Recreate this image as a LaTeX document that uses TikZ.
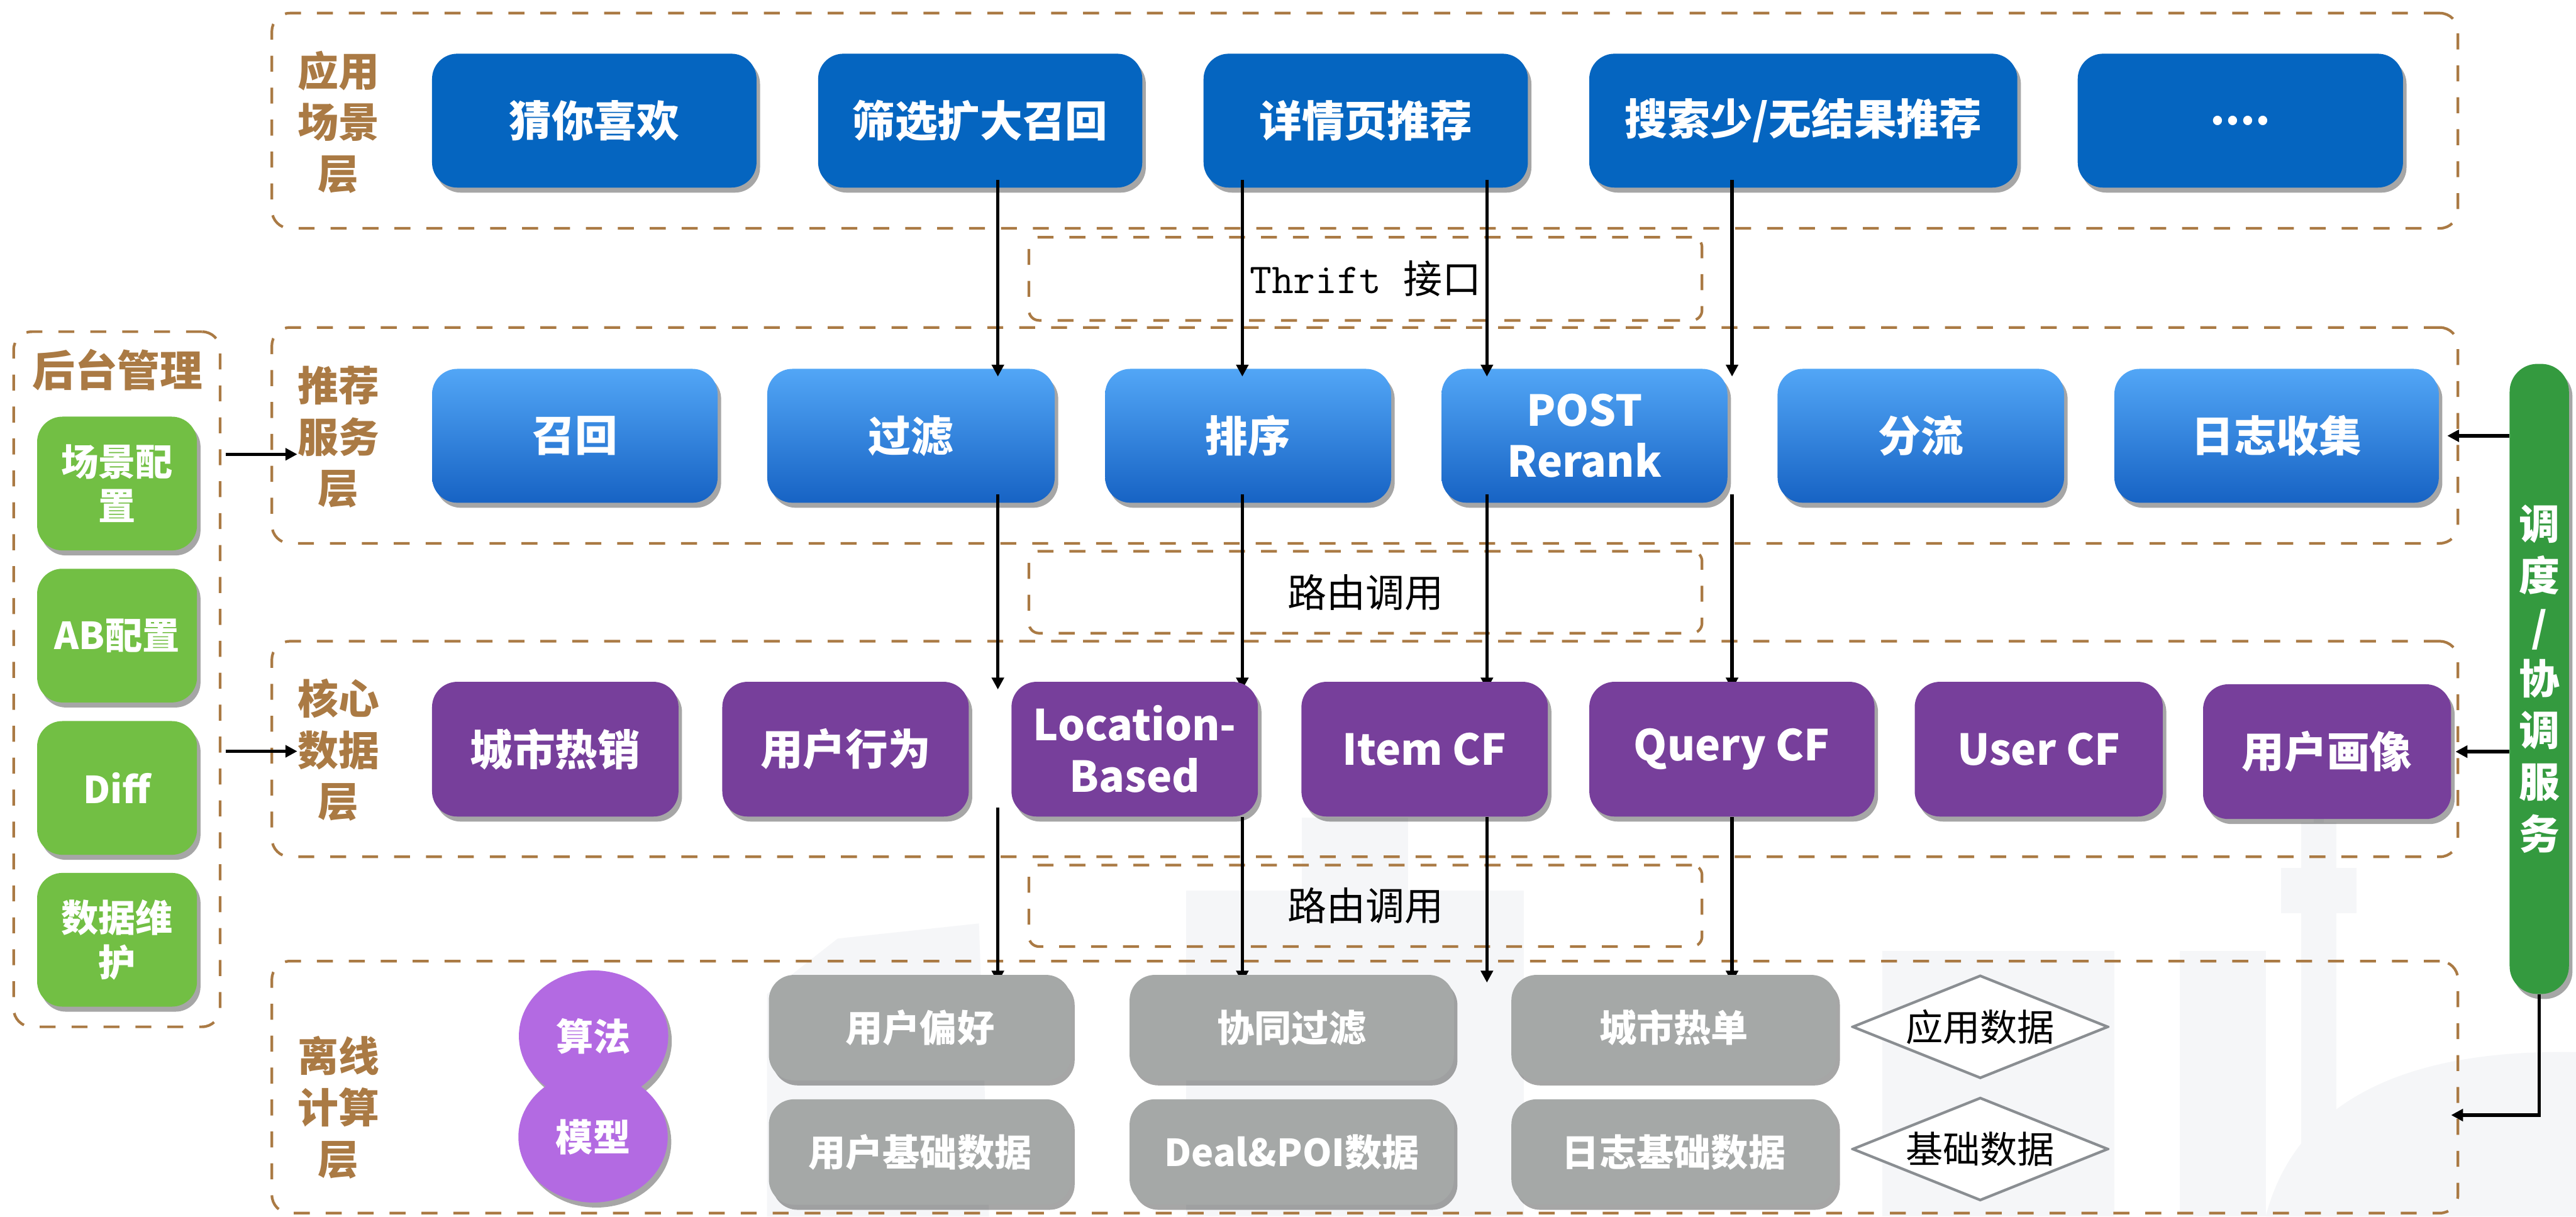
\documentclass[tikz,border=0pt]{standalone}
\usepackage{fontspec}
\setmainfont{Noto Sans CJK SC}
\usetikzlibrary{arrows.meta,shapes.geometric,shadows}

\definecolor{appblue}{HTML}{0565C0}
\definecolor{rectop}{HTML}{52A6F6}
\definecolor{recmid}{HTML}{3B8EE3}
\definecolor{recbot}{HTML}{1763C4}
\definecolor{corepurple}{HTML}{773F9B}
\definecolor{offgray}{HTML}{A5A8A7}
\definecolor{algpurple}{HTML}{B36AE2}
\definecolor{admingreen}{HTML}{72BF44}
\definecolor{busgreen}{HTML}{349A3F}
\definecolor{framebrown}{HTML}{AA7A44}
\definecolor{diamondgray}{HTML}{8A8E92}
\definecolor{skyline}{HTML}{F5F6F8}

\pgfdeclarelayer{bg}
\pgfdeclarelayer{links}
\pgfdeclarelayer{front}
\pgfsetlayers{bg,main,links,front}

\tikzset{
  layerframe/.style={draw=framebrown, line width=1.5pt, dash pattern=on 9pt off 9pt,
    rounded corners=0.36cm, inner sep=0pt},
  callframe/.style={layerframe, rounded corners=0.2cm, font=\fontsize{22}{26}\selectfont},
  box/.style={rounded corners=0.5cm, text=white, align=center, inner sep=0pt,
    font=\bfseries\fontsize{24}{29}\selectfont,
    drop shadow={shadow xshift=0.07cm, shadow yshift=-0.1cm, fill=black, opacity=0.35}},
  appbox/.style={box, fill=appblue, minimum height=2.653cm},
  recbox/.style={box, top color=rectop, middle color=recmid, bottom color=recbot,
    minimum height=2.653cm},
  corebox/.style={box, fill=corepurple, minimum width=4.884cm, minimum height=2.67cm},
  offbox/.style={box, fill=offgray, minimum height=2.09cm,
    font=\bfseries\fontsize{21}{25}\selectfont},
  adminbox/.style={box, fill=admingreen, minimum width=3.168cm, minimum height=2.65cm,
    font=\bfseries\fontsize{21}{25}\selectfont},
  algo/.style={box, ellipse, fill=algpurple, minimum width=2.96cm, minimum height=2.6cm,
    font=\bfseries\fontsize{21}{25}\selectfont},
  % diamond drawn inside a plain box so its size is exact
  dataflag/.style={inner sep=0pt, minimum width=5.12cm, minimum height=2.09cm,
    font=\fontsize{21}{25}\selectfont,
    path picture={\filldraw[fill=white, draw=diamondgray, line width=1.5pt]
      ([yshift=-0.035cm]path picture bounding box.north)
      -- ([xshift=-0.035cm]path picture bounding box.east)
      -- ([yshift=0.035cm]path picture bounding box.south)
      -- ([xshift=0.035cm]path picture bounding box.west) -- cycle;}},
  layerlabel/.style={text=framebrown, align=center, inner sep=0pt,
    font=\bfseries\fontsize{23}{29}\selectfont},
  link/.style={line width=1.9pt, -{Triangle[length=6.7pt,width=6.7pt]}},
}

\begin{document}
\begin{tikzpicture}
\useasboundingbox (0,0) rectangle (51.05,-24.11);

% faint city skyline behind the lower layers
\begin{pgfonlayer}{bg}
\fill[white] (0,0) rectangle (51.05,-24.11);
\fill[skyline] (23.5,-17.65) rectangle (30.2,-24.11);
\fill[skyline] (25.8,-16.2) rectangle (27.9,-17.65);
\fill[skyline] (37.3,-18.85) rectangle (41.9,-24.11);
\fill[skyline] (43.2,-18.85) rectangle (44.9,-24.11);
\fill[skyline] (45.85,-13.9) rectangle (46.05,-16.3);
\fill[skyline] (45.6,-16.3) rectangle (46.3,-24.11);
\fill[skyline] (45.2,-17.2) rectangle (46.7,-18.1);
\fill[skyline] (44.9,-24.11) .. controls (45.6,-21.4) and (48.4,-20.8) .. (51.05,-20.85)
  -- (51.05,-24.11) -- cycle;
\fill[skyline] (15.2,-19.7) -- (16.6,-18.6) -- (19.4,-18.3) -- (19.6,-24.11)
  -- (15.2,-24.11) -- cycle;
\end{pgfonlayer}

% layer frames
\node[layerframe, minimum width=43.322cm, minimum height=4.265cm] (fApp) at (27.049,-2.3925) {};
\node[layerframe, minimum width=43.322cm, minimum height=4.278cm] (fRec) at (27.049,-8.628) {};
\node[layerframe, minimum width=43.322cm, minimum height=4.272cm] (fCore) at (27.049,-14.843) {};
\node[layerframe, minimum width=43.322cm, minimum height=4.994cm] (fOff) at (27.049,-21.543) {};
\node[layerframe, minimum width=4.093cm, minimum height=13.775cm] (admin) at (2.3165,-13.4605) {};

% call frames between the layers
\node[callframe, minimum width=13.34cm, minimum height=1.648cm] (thrift) at (27.06,-5.525)
  {{\ttfamily\fontsize{24}{26}\selectfont Thrift }接口};
\node[callframe, minimum width=13.34cm, minimum height=1.624cm] (route1) at (27.06,-11.735) {路由调用};
\node[callframe, minimum width=13.34cm, minimum height=1.615cm] (route2) at (27.06,-17.95) {路由调用};

% layer labels
\node[layerlabel] (lblApp) at (6.707,-2.419) {应用\\场景\\层};
\node[layerlabel] (lblRec) at (6.707,-8.66) {推荐\\服务\\层};
\node[layerlabel] (lblCore) at (6.707,-14.862) {核心\\数据\\层};
\node[layerlabel] (lblOff) at (6.707,-21.943) {离线\\计算\\层};

% application layer
\node[appbox, minimum width=6.43cm] (guess) at (11.777,-2.391) {猜你喜欢};
\node[appbox, minimum width=6.424cm] (expand) at (19.425,-2.391) {筛选扩大召回};
\node[appbox, minimum width=6.427cm] (detail) at (27.065,-2.391) {详情页推荐};
\node[appbox, minimum width=8.484cm] (search) at (35.737,-2.391) {搜索少/无结果推荐};
\node[appbox, minimum width=6.446cm] (more) at (44.398,-2.391) {....};

% recommendation service layer
\node[recbox, minimum width=5.658cm] (recall) at (11.392,-8.636) {召回};
\node[recbox, minimum width=5.697cm] (filt) at (18.053,-8.636) {过滤};
\node[recbox, minimum width=5.668cm] (rank) at (24.735,-8.636) {排序};
\node[recbox, minimum width=5.665cm] (rerank) at (31.401,-8.636) {POST\\Rerank};
\node[recbox, minimum width=5.678cm] (split) at (38.066,-8.636) {分流};
\node[recbox, minimum width=6.43cm] (logc) at (45.116,-8.636) {日志收集};

% core data and offline layers sit in front of the links
\begin{pgfonlayer}{front}
\node[corebox] (hot) at (11.004,-14.846) {城市热销};
\node[corebox] (behave) at (16.756,-14.846) {用户行为};
\node[corebox] (loc) at (22.487,-14.846) {Location-\\Based};
\node[corebox] (icf) at (28.233,-14.846) {Item CF};
\node[corebox, minimum width=5.652cm] (qcf) at (34.322,-14.846) {Query CF};
\node[corebox, minimum width=4.916cm] (ucf) at (40.403,-14.846) {User CF};
\node[corebox, minimum width=4.916cm] (portrait) at (46.117,-14.895) {用户画像};

\node[offbox, minimum width=5.99cm] (pref) at (18.232,-20.364) {用户偏好};
\node[offbox, minimum width=5.99cm] (ubase) at (18.232,-22.829) {用户基础数据};
\node[offbox, minimum width=6.427cm] (cofilt) at (25.599,-20.364) {协同过滤};
\node[offbox, minimum width=6.427cm] (dealpoi) at (25.599,-22.829) {Deal\&POI数据};
\node[offbox, minimum width=6.44cm] (cityhot) at (33.172,-20.364) {城市热单};
\node[offbox, minimum width=6.44cm] (logbase) at (33.172,-22.829) {日志基础数据};

\node[algo] (alg) at (11.763,-20.53) {算法};
\node[algo] (model) at (11.753,-22.529) {模型};

\node[dataflag] (appdata) at (39.244,-20.348) {应用数据};
\node[dataflag] (basedata) at (39.244,-22.77) {基础数据};
\end{pgfonlayer}

% admin column
\node[layerlabel, font=\bfseries\fontsize{24}{29}\selectfont] (adminTitle) at (2.328,-7.325) {后台管理};
\node[adminbox] (scene) at (2.32,-9.582) {场景配\\置};
\node[adminbox] (abcfg) at (2.32,-12.595) {AB配置};
\node[adminbox] (diff) at (2.32,-15.614) {Diff};
\node[adminbox] (maint) at (2.32,-18.623) {数据维\\护};

% scheduling bar
\node[box, fill=busgreen, rounded corners=0.55cm, minimum width=1.175cm, minimum height=12.486cm,
  font=\bfseries\fontsize{23}{29.1}\selectfont] (bus) at (50.322,-13.454) {调\\度\\/\\协\\调\\服\\务};

% link columns
\coordinate (c1) at (19.775,0);
\coordinate (c2) at (24.62,0);
\coordinate (c3) at (29.467,0);
\coordinate (c4) at (34.325,0);
\coordinate (adminIn1) at (0,-9.002);
\coordinate (adminIn2) at (0,-14.888);
\coordinate (offIn) at (48.575,-22.097);

\begin{pgfonlayer}{links}
% app -> recommendation (Thrift)
\draw[link] ([yshift=0.16cm]expand.south -| c1) -- ([yshift=-0.16cm]filt.north -| c1);
\draw[link] ([yshift=0.16cm]detail.south -| c2) -- ([yshift=-0.16cm]rank.north -| c2);
\draw[link] ([yshift=0.16cm]detail.south -| c3) -- ([yshift=-0.16cm]rerank.north -| c3);
\draw[link] ([yshift=0.16cm]search.south -| c4) -- ([yshift=-0.16cm]rerank.north -| c4);
% recommendation -> core data
\draw[link] ([yshift=0.17cm]filt.south -| c1) -- ([yshift=-0.16cm]loc.north -| c1);
\draw[link] ([yshift=0.17cm]rank.south -| c2) -- ([yshift=-0.16cm]loc.north -| c2);
\draw[link] ([yshift=0.17cm]rerank.south -| c3) -- ([yshift=-0.16cm]icf.north -| c3);
\draw[link] ([yshift=0.17cm]rerank.south -| c4) -- ([yshift=-0.16cm]qcf.north -| c4);
% core data -> offline
\draw[link] ([yshift=0.18cm]loc.south -| c1) -- ([yshift=-0.16cm]pref.north -| c1);
\draw[link] (loc.south -| c2) -- ([yshift=-0.16cm]cofilt.north -| c2);
\draw[link] (icf.south -| c3) -- ([yshift=-0.16cm]cityhot.north -| c3);
\draw[link] (qcf.south -| c4) -- ([yshift=-0.16cm]cityhot.north -| c4);
% admin and scheduling
\draw[link] ([xshift=0.08cm]admin.east |- adminIn1) -- (lblRec.west |- adminIn1);
\draw[link] ([xshift=0.08cm]admin.east |- adminIn2) -- (lblCore.west |- adminIn2);
\draw[link] (bus.west |- logc) -- ([xshift=0.16cm]logc.east);
\draw[link] (bus.west |- portrait) -- ([xshift=0.08cm]portrait.east);
\draw[link] (bus.south) |- (offIn);
\end{pgfonlayer}
\end{tikzpicture}
\end{document}
